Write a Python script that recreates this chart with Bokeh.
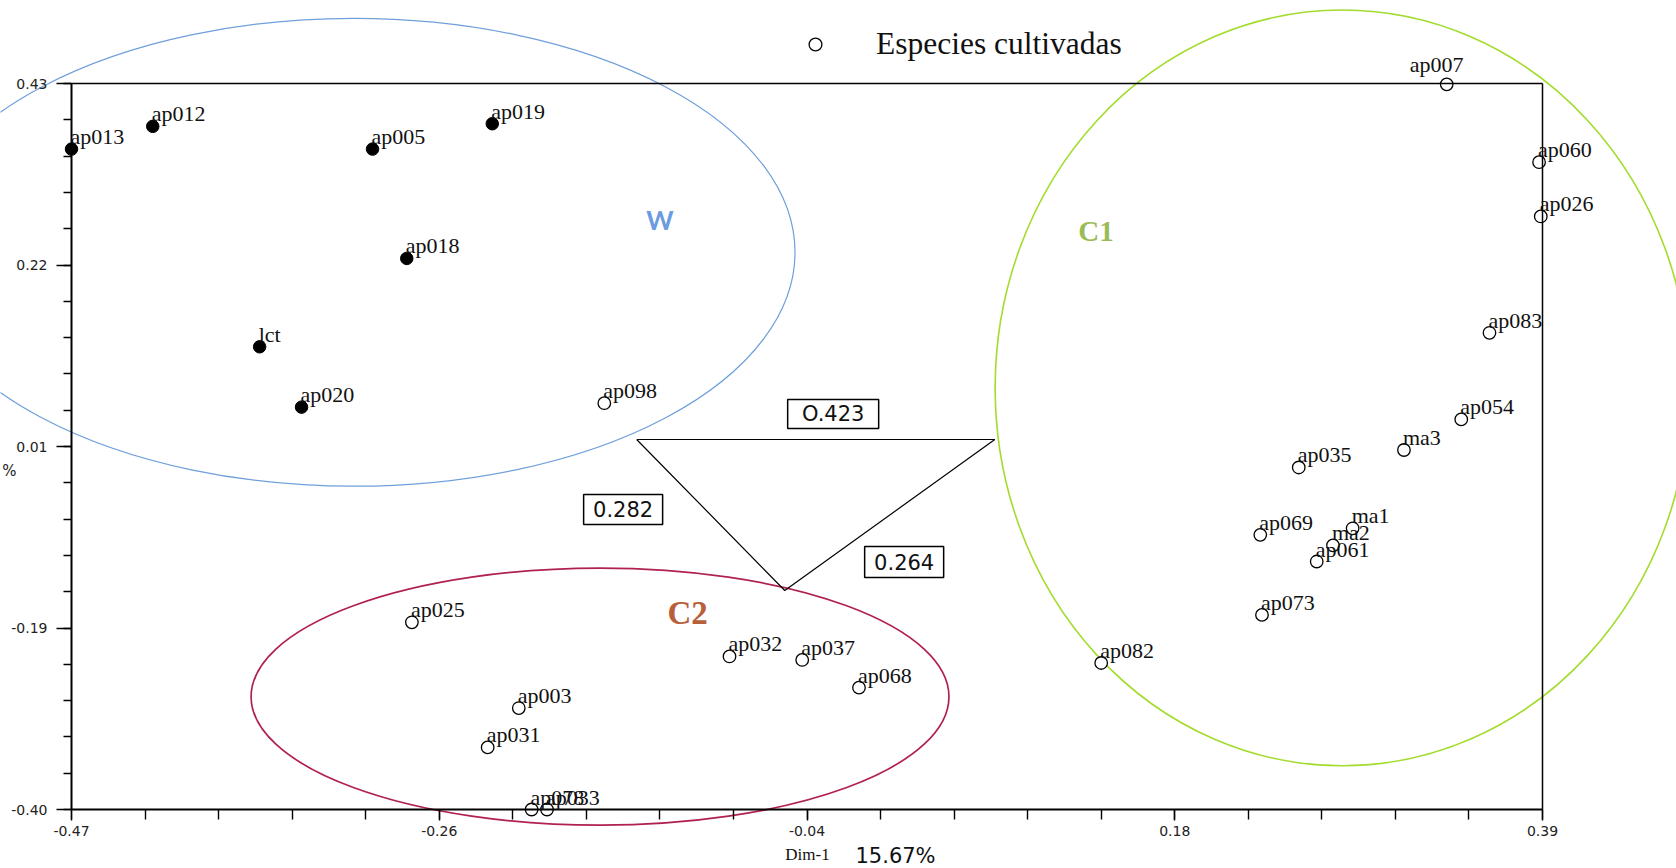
import numpy as np
from bokeh.plotting import figure
from bokeh.models import (ColumnDataSource, LabelSet, Label, FixedTicker, Legend,
                          LegendItem, Range1d, LinearAxis)
from bokeh.core.properties import value
from bokeh.embed import file_html
from bokeh.resources import INLINE

# ---------------- data ----------------
WILD_NAMES = ["ap013", "ap012", "ap005", "ap019", "ap018", "lct", "ap020"]
WILD_X = [-0.470, -0.4225, -0.294, -0.224, -0.274, -0.360, -0.3355]
WILD_Y = [0.355, 0.381, 0.355, 0.384, 0.230, 0.129, 0.060]

CULT_NAMES = ["ap098", "ap007", "ap060", "ap026", "ap083", "ap054", "ma3", "ap035",
              "ma1", "ap069", "ma2", "ap061", "ap073", "ap082", "ap025", "ap032",
              "ap037", "ap068", "ap003", "ap031", "ap078", "ap033"]
CULT_X = [-0.1585, 0.334, 0.388, 0.389, 0.359, 0.3425, 0.309, 0.2475,
          0.279, 0.225, 0.2675, 0.258, 0.226, 0.132, -0.271, -0.0853,
          -0.0428, -0.0096, -0.2085, -0.2267, -0.201, -0.192]
CULT_Y = [0.0645, 0.429, 0.340, 0.278, 0.145, 0.046, 0.011, -0.009,
          -0.0785, -0.086, -0.098, -0.1165, -0.1775, -0.2325, -0.186, -0.225,
          -0.229, -0.2607, -0.284, -0.329, -0.400, -0.400]

X_MIN, X_MAX = -0.47, 0.39
Y_MIN, Y_MAX = -0.40, 0.43
X_TICKS = [-0.47, -0.255, -0.04, 0.175, 0.39]
X_TICK_LABELS = ["-0.47", "-0.26", "-0.04", "0.18", "0.39"]
Y_TICKS = [-0.40, -0.1925, 0.015, 0.2225, 0.43]
Y_TICK_LABELS = ["-0.40", "-0.19", "0.01", "0.22", "0.43"]

GROUPS = ["W", "C1", "C2"]
GROUP_CX = [-0.305, 0.273, -0.161]
GROUP_CY = [0.237, 0.082, -0.271]
GROUP_RX = [0.258, 0.203, 0.204]
GROUP_RY = [0.2675, 0.432, 0.147]
GROUP_LABEL_X = [-0.126, 0.129, -0.1098]
GROUP_LABEL_Y = [0.2745, 0.261, -0.1748]

TRI_X = [-0.1396, 0.0698, -0.053]
TRI_Y = [0.023, 0.023, -0.1496]
DIST_LABELS = ["O.423", "0.282", "0.264"]
DIST_X = [-0.0247, -0.1475, 0.0168]
DIST_Y = [0.0522, -0.057, -0.117]

# ---------------- layout / styles ----------------
W, H = 1676, 868
BOX_L, BOX_R, BOX_T, BOX_B = 71, 1542, 83, 809   # pixel box of the axes
sx = (BOX_R - BOX_L) / (X_MAX - X_MIN)
sy = (BOX_B - BOX_T) / (Y_MAX - Y_MIN)
XR = Range1d(X_MIN - BOX_L / sx, X_MAX + (W - BOX_R) / sx)
YR = Range1d(Y_MIN - (H - BOX_B) / sy, Y_MAX + BOX_T / sy)

GROUP_LINE_COLORS = ["#6f9fdc", "#a2dc2c", "#b0214f"]
GROUP_LINE_WIDTHS = [1.2, 1.6, 1.7]
GROUP_TEXT_COLORS = ["#6b9be0", "#9bbb59", "#b8603c"]
GROUP_FONTS = ["Lato", "Liberation Serif", "Liberation Serif"]
GROUP_SIZES = ["26px", "29px", "33px"]
DIST_BOX_W = [91, 79, 79]
DIST_BOX_H = [29, 30, 31]
LABEL_SHIFT = {"ap007": (-37, 12)}

p = figure(width=W, height=H, x_range=XR, y_range=YR,
           output_backend="svg", toolbar_location=None, min_border=0)
for g in p.grid:
    g.visible = False
p.outline_line_color = None
p.background_fill_color = "white"
p.border_fill_color = "white"

xa = p.xaxis[0]
xa.fixed_location = Y_MIN
xa.bounds = (X_MIN, X_MAX)
xa.ticker = FixedTicker(ticks=X_TICKS, minor_ticks=np.linspace(X_MIN, X_MAX, 21).tolist())
xa.major_label_overrides = dict(zip(X_TICKS, X_TICK_LABELS))
xa.axis_line_width = 2
xa.major_tick_out = 11
xa.minor_tick_out = 10
xa.major_tick_in = 0
xa.minor_tick_in = 0
xa.major_tick_line_width = 1.4
xa.minor_tick_line_width = 1.4
xa.major_label_standoff = 5
xa.major_label_text_font = "DejaVu Sans"
xa.major_label_text_font_size = "14px"
xa.major_label_text_color = "#222222"

ya = p.yaxis[0]
ya.fixed_location = X_MIN
ya.bounds = (Y_MIN, Y_MAX)
ya.ticker = FixedTicker(ticks=Y_TICKS, minor_ticks=np.linspace(Y_MIN, Y_MAX, 21).tolist())
ya.major_label_overrides = dict(zip(Y_TICKS, Y_TICK_LABELS))
ya.axis_line_width = 2
ya.major_tick_out = 15
ya.minor_tick_out = 8
ya.major_tick_in = 0
ya.minor_tick_in = 0
ya.major_tick_line_width = 1.4
ya.minor_tick_line_width = 1.4
ya.major_label_standoff = 9
ya.major_label_text_font = "DejaVu Sans"
ya.major_label_text_font_size = "14px"
ya.major_label_text_color = "#222222"

# top and right border of the axes box (bare axes)
top_ax = LinearAxis(fixed_location=Y_MAX, bounds=(X_MIN, X_MAX),
                    ticker=FixedTicker(ticks=[]), axis_line_width=1.5,
                    major_tick_line_color=None, minor_tick_line_color=None,
                    major_label_text_alpha=0)
right_ax = LinearAxis(fixed_location=X_MAX, bounds=(Y_MIN, Y_MAX),
                      ticker=FixedTicker(ticks=[]), axis_line_width=1.5,
                      major_tick_line_color=None, minor_tick_line_color=None,
                      major_label_text_alpha=0)
p.add_layout(top_ax, "above")
p.add_layout(right_ax, "right")

# cluster ellipses
p.ellipse(x=GROUP_CX, y=GROUP_CY, width=[2 * r for r in GROUP_RX],
          height=[2 * r for r in GROUP_RY], fill_color=None,
          line_color=GROUP_LINE_COLORS, line_width=GROUP_LINE_WIDTHS)

# triangle of distances
p.line(TRI_X + TRI_X[:1], TRI_Y + TRI_Y[:1], line_color="black", line_width=1.2)

# distance boxes
dsrc = ColumnDataSource(dict(x=DIST_X, y=DIST_Y, t=DIST_LABELS, w=DIST_BOX_W, h=DIST_BOX_H))
p.rect("x", "y", width="w", height="h", width_units="screen", height_units="screen",
       source=dsrc, fill_color="white", line_color="black", line_width=1.5)
p.text("x", "y", text="t", source=dsrc, text_align="center", text_baseline="middle",
       text_font=value("DejaVu Sans"), text_font_size="21px", text_color="#111111")

# points
r_wild = p.scatter(WILD_X, WILD_Y, size=12.5, fill_color="black", line_color="black")
r_cult = p.scatter(CULT_X, CULT_Y, size=12.5, fill_color="white", line_color="black",
                   line_width=1.3)

names = WILD_NAMES + CULT_NAMES
dx = [LABEL_SHIFT.get(n, (-1, 5))[0] for n in names]
dy = [LABEL_SHIFT.get(n, (-1, 5))[1] for n in names]
lsrc = ColumnDataSource(dict(x=WILD_X + CULT_X, y=WILD_Y + CULT_Y, t=names, dx=dx, dy=dy))
p.add_layout(LabelSet(x="x", y="y", text="t", source=lsrc, x_offset="dx", y_offset="dy",
                      text_align="left", text_baseline="alphabetic",
                      text_font=value("Liberation Serif"), text_font_size="22px",
                      text_color="#111111"))

for g, gx, gy, c, f, s in zip(GROUPS, GROUP_LABEL_X, GROUP_LABEL_Y,
                              GROUP_TEXT_COLORS, GROUP_FONTS, GROUP_SIZES):
    p.add_layout(Label(x=gx, y=gy, text=g, text_align="center", text_baseline="middle",
                       text_font=f, text_font_size=s, text_font_style="bold", text_color=c))

# axis titles
p.add_layout(Label(x=807, y=14, x_units="screen", y_units="screen", text="Dim-1",
                   text_align="center", text_baseline="middle",
                   text_font="Liberation Serif", text_font_size="17px", text_color="#111111"))
p.add_layout(Label(x=855, y=13, x_units="screen", y_units="screen", text="15.67%",
                   text_align="left", text_baseline="middle",
                   text_font="DejaVu Sans", text_font_size="21px", text_color="#111111"))
p.add_layout(Label(x=9, y=398, x_units="screen", y_units="screen", text="%",
                   text_align="center", text_baseline="middle",
                   text_font="DejaVu Sans", text_font_size="15px", text_color="#222222"))

# legend
legend = Legend(items=[LegendItem(label="Especies cultivadas", renderers=[r_cult])],
                location=(799, 806), orientation="vertical",
                padding=0, margin=0, spacing=0,
                glyph_width=32, glyph_height=36, label_height=36, label_standoff=45,
                label_text_font="Liberation Serif", label_text_font_size="31.5px",
                label_text_color="#111111", label_text_baseline="middle",
                border_line_color=None, background_fill_alpha=0)
p.add_layout(legend, "center")

open("out.html", "w").write(file_html(p, INLINE))
